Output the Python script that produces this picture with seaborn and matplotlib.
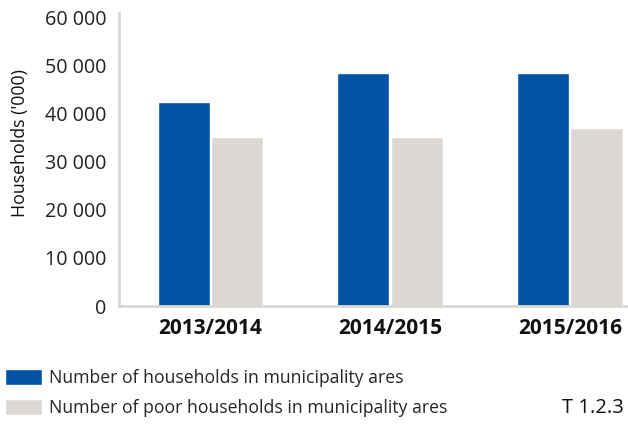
import matplotlib
matplotlib.use("Agg")
import matplotlib.pyplot as plt
import matplotlib.ticker as mticker
import seaborn as sns
import pandas as pd

years = ["2013/2014", "2014/2015", "2015/2016"]
series_names = ["Number of households in municipality ares",
                "Number of poor households in municipality ares"]
households = [42500, 48500, 48500]
poor_households = [35200, 35200, 37100]
colors = ["#0053a5", "#dbd8d4"]

df = pd.DataFrame({
    "year": years * 2,
    "series": [series_names[0]] * 3 + [series_names[1]] * 3,
    "value": households + poor_households,
})

sns.set_style("white")
plt.rcParams["font.family"] = ["Open Sans", "DejaVu Sans"]

fig = plt.figure(figsize=(6.28, 4.25), dpi=100)
ax = fig.add_axes([119 / 628, 1 - 306 / 425, (627 - 119) / 628, (306 - 13) / 425])

sns.barplot(data=df, x="year", y="value", hue="series", palette=colors,
            width=0.59, gap=0.02, saturation=1, ax=ax, legend=True)

ax.set_ylim(0, 61000)
ax.set_xlim(-0.506, 2.317)
ax.set_yticks(range(0, 60001, 10000))
ax.yaxis.set_major_formatter(mticker.FuncFormatter(lambda v, p: f"{int(v):,}".replace(",", " ")))
ax.tick_params(axis="y", length=0, labelsize=14.2, pad=9, colors="#222222")
ax.tick_params(axis="x", length=0, labelsize=15, pad=9, colors="#111111")
for lbl in ax.get_xticklabels():
    lbl.set_fontweight("bold")
ax.set_xlabel("")
ax.set_ylabel("Households ('000)", fontsize=12.8, color="#111111")
ax.yaxis.set_label_coords((29 - 119) / 508, (306 - 143) / 293)

for side in ["top", "right"]:
    ax.spines[side].set_visible(False)
for side in ["left", "bottom"]:
    ax.spines[side].set_color("#dbd8d4")
    ax.spines[side].set_linewidth(2)

handles, labels = ax.get_legend_handles_labels()
ax.legend_.remove()
fig.legend(handles, labels, loc="upper left", bbox_to_anchor=(0.0, 1 - 364 / 425),
           frameon=False, fontsize=12.7, handlelength=2.1, handleheight=1.0,
           handletextpad=0.4, labelspacing=0.66, borderaxespad=0, borderpad=0.3)
fig.text(624 / 628, 1 - 408 / 425, "T 1.2.3", ha="right", va="center", fontsize=14.5,
         color="#111111")

fig.savefig("out.png", dpi=100)
